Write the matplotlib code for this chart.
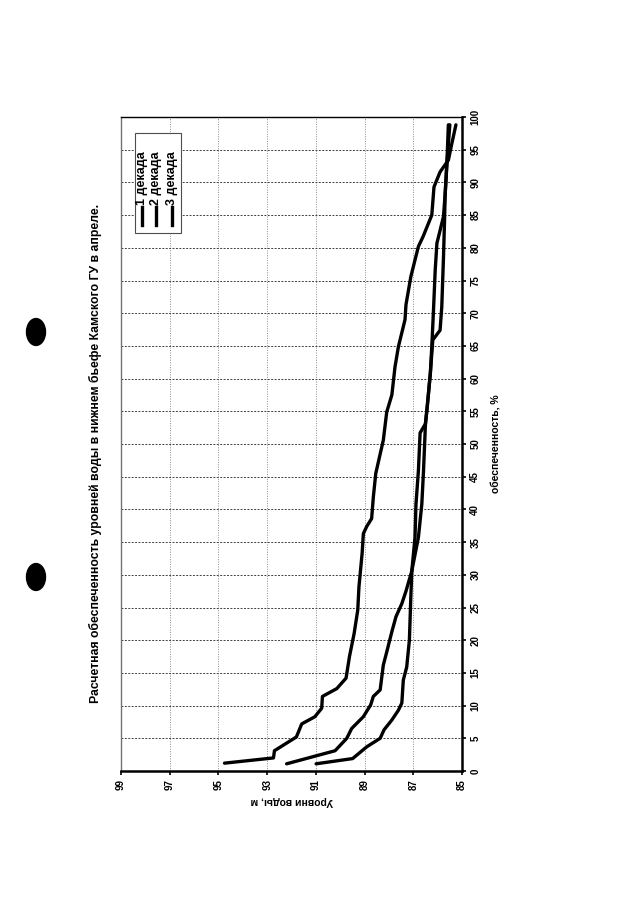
import matplotlib.pyplot as plt
from matplotlib.patches import Rectangle, Circle
from matplotlib.lines import Line2D

plt.rcParams['font.family'] = ['Liberation Sans', 'DejaVu Sans']

# обеспеченность, % and уровни воды, м for each decade
p_dec3 = [1.2, 2.0, 3.1, 5.2, 7.2, 8.3, 9.6, 11.4, 12.6, 14.2, 17.5, 21.0,
          24.6, 28.2, 33.3, 36.3, 37.4, 38.6, 41.9, 45.5, 50.6, 54.9, 57.5,
          61.8, 64.9, 69.0, 71.3, 75.6, 80.2, 81.7, 85.0, 89.3, 91.6, 93.4,
          95.9, 98.8]
h_dec3 = [94.75, 92.74, 92.7, 91.8, 91.58, 91.04, 90.76, 90.73, 90.14, 89.76,
          89.62, 89.43, 89.28, 89.23, 89.1, 89.05, 88.91, 88.71, 88.64, 88.54,
          88.23, 88.09, 87.88, 87.75, 87.61, 87.34, 87.3, 87.1, 86.79, 86.6,
          86.24, 86.15, 85.9, 85.56, 85.42, 85.25]

p_dec2 = [1.1, 3.1, 5.0, 6.5, 8.3, 10.1, 11.4, 12.4, 16.2, 18.2, 21.3, 23.6,
          25.6, 27.5, 30.6, 35.7, 40.8, 45.9, 53.1, 56.0, 60.8, 65.9, 67.4,
          71.0, 78.6, 83.7, 88.3, 92.9, 98.8]
h_dec2 = [92.2, 90.21, 89.73, 89.53, 89.05, 88.75, 88.64, 88.36, 88.23, 88.09,
          87.88, 87.71, 87.47, 87.3, 87.06, 86.79, 86.65, 86.58, 86.5, 86.42,
          86.3, 86.2, 85.9, 85.83, 85.76, 85.72, 85.69, 85.62, 85.5]

p_dec1 = [1.1, 1.9, 3.7, 5.0, 6.3, 7.8, 9.3, 10.4, 13.9, 15.9, 20.0, 26.7,
          30.6, 35.7, 40.8, 45.9, 51.7, 53.1, 56.0, 60.8, 64.9, 70.5, 76.6,
          80.7, 82.2, 84.8, 88.3, 92.9, 98.8]
h_dec1 = [90.99, 89.49, 88.91, 88.36, 88.2, 87.88, 87.61, 87.47, 87.41, 87.27,
          87.16, 87.1, 87.06, 86.93, 86.89, 86.79, 86.72, 86.5, 86.42, 86.3,
          86.24, 86.17, 86.1, 86.03, 85.93, 85.76, 85.69, 85.62, 85.56]

level_ticks = [99, 97, 95, 93, 91, 89, 87, 85]
pct_ticks = list(range(0, 101, 5))
legend_labels = ['1 декада', '2 декада', '3 декада']

title = 'Расчетная обеспеченность уровней воды в нижнем бьефе Камского ГУ в апреле.'

fig = plt.figure(figsize=(6.4, 9.05), dpi=100)
# the page is turned: levels run left->right (99..85), percent bottom->top
ax = fig.add_axes([121 / 640, 134 / 905, 341 / 640, 654 / 905])

for p, h in [(p_dec1, h_dec1), (p_dec2, h_dec2), (p_dec3, h_dec3)]:
    ax.plot(h, p, color='black', lw=2.4, solid_joinstyle='round',
            solid_capstyle='round')

ax.set_xlim(99, 85)
ax.set_ylim(0, 100)
ax.set_xticks(level_ticks)
ax.set_yticks(pct_ticks)
ax.yaxis.tick_right()
ax.yaxis.set_label_position('right')

# percent gridlines darker dashes, level gridlines lighter dots
ax.yaxis.grid(True, color='0.25', linestyle=(0, (2, 1.5)), lw=0.7)
ax.xaxis.grid(True, color='0.55', linestyle=(0, (1, 1.5)), lw=0.7)
ax.set_axisbelow(True)

ax.tick_params(axis='both', direction='out', length=3, width=1.2,
               labelsize=7, pad=3)
for lab in ax.get_xticklabels() + ax.get_yticklabels():
    lab.set_rotation(90)
    lab.set_fontweight('bold')
for lab in ax.get_xticklabels():
    lab.set_va('top')
    lab.set_ha('center')
for lab in ax.get_yticklabels():
    lab.set_va('center')
    lab.set_ha('left')

ax.set_xlabel('Уровни воды, м', rotation=180, fontsize=7.5, fontweight='bold',
              labelpad=4)
ax.set_ylabel('обеспеченность, %', rotation=90, fontsize=7.5,
              fontweight='bold', labelpad=8)

ax.spines['left'].set_color('0.45')
ax.spines['left'].set_linewidth(1.0)
ax.spines['top'].set_linewidth(1.0)
ax.spines['right'].set_linewidth(1.8)
ax.spines['bottom'].set_linewidth(1.8)

# legend, turned with the page
ax.add_patch(Rectangle((0.041, 0.823), 0.135, 0.153, transform=ax.transAxes,
                       facecolor='white', edgecolor='0.3', lw=0.8, zorder=5))
for x, lab in zip([0.061, 0.103, 0.149], legend_labels):
    ax.add_line(Line2D([x, x], [0.835, 0.862], transform=ax.transAxes,
                       color='black', lw=2.4, zorder=6))
    ax.text(x, 0.866, lab, transform=ax.transAxes, rotation=90,
            rotation_mode='anchor', ha='left', va='center', fontsize=9,
            fontweight='bold', zorder=6)

fig.text(95 / 640, 1 - 453 / 905, title, rotation=90, ha='center',
         va='center', fontsize=8.8, fontweight='bold')

# punch holes of the scanned sheet
for yc in [332, 577]:
    fig.patches.append(Circle((36 / 640, 1 - yc / 905), 9.5 / 640,
                              transform=fig.transFigure, color='black'))

fig.savefig('out.png', dpi=100)
